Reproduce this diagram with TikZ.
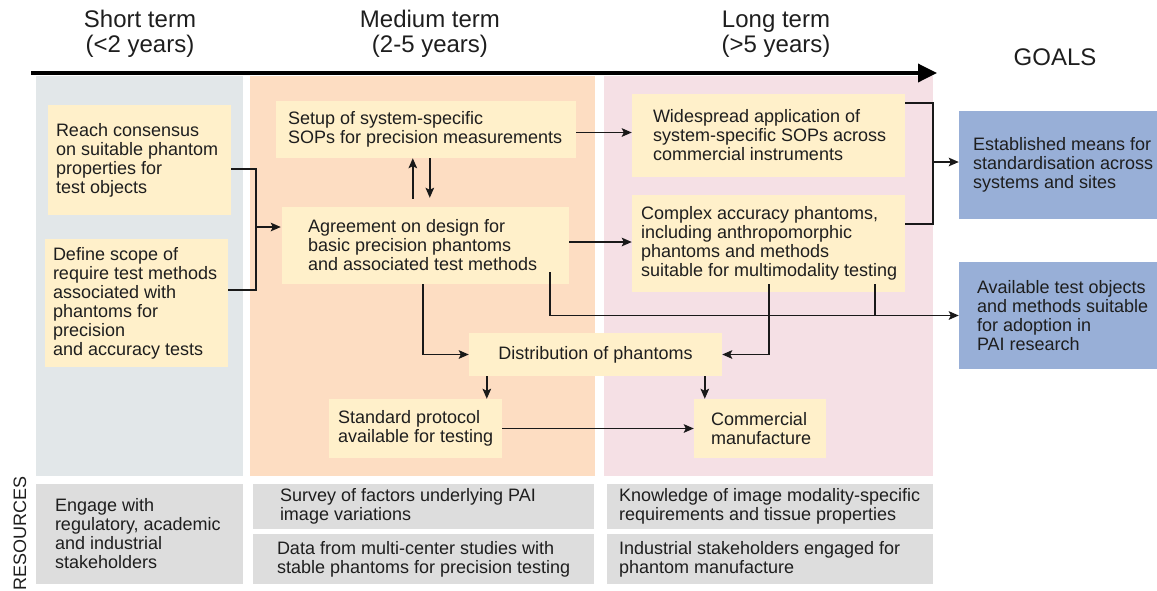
\documentclass[tikz,border=0pt]{standalone}
\usepackage{fontspec}
\setmainfont{Liberation Sans}
\usetikzlibrary{arrows.meta,calc,fit}
\definecolor{colS}{HTML}{E2E7E9}
\definecolor{colM}{HTML}{FDDDC2}
\definecolor{colL}{HTML}{F5E0E5}
\definecolor{boxY}{HTML}{FFF0CA}
\definecolor{boxB}{HTML}{98AFD7}
\definecolor{boxG}{HTML}{DDDDDD}
\definecolor{txtc}{HTML}{1E1E1E}
\tikzset{
  yb/.style={fill=boxY, draw=none, inner sep=0pt},
  gb/.style={fill=boxB, draw=none, inner sep=0pt},
  rb/.style={fill=boxG, draw=none, inner sep=0pt},
  txt/.style={align=left, inner sep=0pt, text=txtc, font=\fontsize{18}{19}\selectfont},
  head/.style={align=center, inner sep=0pt, text=txtc, font=\fontsize{24}{25}\selectfont},
  conn/.style={line width=1.8pt, draw=black!90},
  arr/.style={conn, -{Stealth[length=10pt,width=8.5pt,inset=2pt]}},
}
\newcommand\mybox[8]{%
  \node[#1, fit={(#3,#4) (#5,#6)}] (#2) {};
  \node[txt, anchor=west] (#2-t) at ([xshift=#7pt]#2.west) {#8};}
\begin{document}
\begin{tikzpicture}[x=1pt,y=-1pt]
\useasboundingbox (0,0) rectangle (1157,590);
% column backgrounds
\fill[colS] (36,76) rectangle (243,476);
\fill[colM] (250,76) rectangle (595,476);
\fill[colL] (604,76) rectangle (933,476);
% headings
\node[head] (h1) at (140,34) {Short term\\(<2 years)};
\node[head] (h2) at (430,34) {Medium term\\(2-5 years)};
\node[head] (h3) at (776,34) {Long term\\(>5 years)};
\node[head] (goals) at (1055,57) {GOALS};
\node[txt, rotate=90] (res) at (20,533) {RESOURCES};
% timeline
\coordinate (t0) at (31,73);
\coordinate (t1) at (937,73);
\draw[line width=3.5pt, -{Triangle[length=19pt,width=18pt]}] (t0) -- (t1);
% boxes
\mybox{yb}{reach}{48}{105}{231}{215}{8}{Reach consensus\\on suitable phantom\\properties for\\test objects}
\mybox{yb}{define}{45}{239}{228}{367}{8}{Define scope of\\require test methods\\associated with\\phantoms for\\precision\\and accuracy tests}
\mybox{yb}{setup}{276}{101}{576}{158}{12}{Setup of system-specific\\SOPs for precision measurements}
\mybox{yb}{agree}{282}{207}{569}{284}{26}{Agreement on design for\\basic precision phantoms\\and associated test methods}
\mybox{yb}{wide}{632}{94}{905}{177}{21}{Widespread application of\\system-specific SOPs across\\commercial instruments}
\mybox{yb}{complex}{632}{195}{905}{292}{9}{Complex accuracy phantoms,\\including anthropomorphic\\phantoms and methods\\suitable for multimodality testing}
\node[yb, fit={(469,333) (722,376)}] (distr) {};
\node[txt, align=center] (distr-t) at (distr.center) {Distribution of phantoms};
\mybox{yb}{std}{329}{399}{502}{458}{9}{Standard protocol\\available for testing}
\mybox{yb}{comm}{694}{399}{826}{458}{17}{Commercial\\manufacture}
\mybox{gb}{goal1}{959}{111}{1157}{219}{14}{Established means for\\standardisation across\\systems and sites}
\mybox{gb}{goal2}{959}{262}{1157}{369}{18}{Available test objects\\and methods suitable\\for adoption in\\PAI research}
\mybox{rb}{engage}{36}{484}{243}{584}{19}{Engage with\\regulatory, academic\\and industrial\\stakeholders}
\mybox{rb}{survey}{253}{484}{594}{529}{27}{Survey of factors underlying PAI\\image variations}
\mybox{rb}{data}{253}{534}{594}{584}{24}{Data from multi-center studies with\\stable phantoms for precision testing}
\mybox{rb}{know}{607}{484}{933}{529}{12}{Knowledge of image modality-specific\\requirements and tissue properties}
\mybox{rb}{indus}{607}{534}{933}{584}{12}{Industrial stakeholders engaged for\\phantom manufacture}
% connectors
\coordinate (j1) at (256,227);
\draw[conn] ([yshift=-9pt]reach.east) -| (j1) |- ([yshift=13pt]define.east);
\draw[arr] (j1) -- ([xshift=-1pt]j1 -| agree.west);
\coordinate (u1) at ($(agree.north west)+(131,-8)$);
\draw[arr] (u1) -- (u1 |- setup.south);
\coordinate (d1) at ($(agree.north west)+(148,-9)$);
\draw[arr] (d1 |- setup.south) -- (d1);
\coordinate (s1) at ([yshift=-3pt]setup.east);
\draw[arr] (s1) -- (s1 -| wide.west);
\coordinate (a1) at ([yshift=3.5pt]agree.east);
\draw[arr] (a1) -- (a1 -| complex.west);
\coordinate (j2) at (933,162);
\draw[conn] ([yshift=32.5pt]wide.east) -| (j2) |- ([yshift=19.5pt]complex.east);
\draw[arr] (j2) -- (j2 -| goal1.west);
\coordinate (a2) at ($(agree.south west)+(141,0)$);
\draw[arr] (a2) |- (distr.west);
\coordinate (a3) at ($(agree.south west)+(268,-12)$);
\draw[arr] (a3) |- (goal2.west);
\coordinate (c1) at ($(complex.south west)+(137,-8)$);
\draw[arr] (c1) |- (distr.east);
\coordinate (c2) at ($(complex.south west)+(243,-8)$);
\draw[conn] (c2) -- (c2 |- goal2.west);
\coordinate (dd1) at ($(distr.south west)+(18,0)$);
\draw[arr] (dd1) -- (dd1 |- std.north);
\coordinate (dd2) at ($(distr.south west)+(236,0)$);
\draw[arr] (dd2) -- (dd2 |- comm.north);
\draw[arr] (std.east) -- (comm.west);
\end{tikzpicture}
\end{document}
